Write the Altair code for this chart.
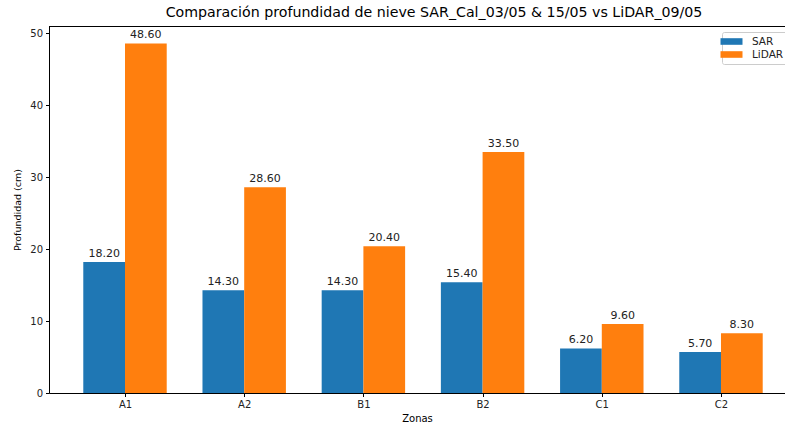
import altair as alt
import pandas as pd

zones = ["A1", "A2", "B1", "B2", "C1", "C2"]
sar = [18.2, 14.3, 14.3, 15.4, 6.2, 5.7]
lidar = [48.6, 28.6, 20.4, 33.5, 9.6, 8.3]
series = ["SAR", "LiDAR"]
colors = ["#1f77b4", "#ff7f0e"]
bar_w = 0.35

rows = []
for i, z in enumerate(zones):
    rows.append({"zona": z, "i": i, "serie": "SAR", "valor": sar[i],
                 "x0": i - bar_w, "x1": i, "xc": i - bar_w / 2})
    rows.append({"zona": z, "i": i, "serie": "LiDAR", "valor": lidar[i],
                 "x0": i, "x1": i + bar_w, "xc": i + bar_w / 2})
df = pd.DataFrame(rows)

W = 736
H = 367
FONT = "DejaVu Sans"
label_expr = "[" + ",".join("'%s'" % z for z in zones) + "][datum.value]"

xscale = alt.Scale(domain=[-0.6376, 5.537], nice=False, zero=False)
yscale = alt.Scale(domain=[0, 51.03], nice=False)

base = alt.Chart(df)

bars = base.mark_rect().encode(
    x=alt.X("x0:Q", scale=xscale,
            axis=alt.Axis(values=list(range(len(zones))), labelExpr=label_expr,
                          title="Zonas", grid=False, tickSize=3.5, labelPadding=3,
                          titlePadding=4, titleFontWeight="normal", titleFontSize=10,
                          labelFontSize=10, titleColor="black", labelColor="#222",
                          domainColor="black", tickColor="black", titleFont=FONT,
                          labelFont=FONT, labelFlush=False)),
    x2="x1:Q",
    y=alt.Y("valor:Q", scale=yscale,
            axis=alt.Axis(values=[0, 10, 20, 30, 40, 50], title="Profundidad (cm)",
                          grid=False, tickSize=3.5, labelPadding=3, titlePadding=7,
                          titleFontWeight="normal", titleFontSize=9.5, labelFontSize=10,
                          titleColor="black", labelColor="#222", domainColor="black",
                          tickColor="black", titleFont=FONT, labelFont=FONT)),
    y2=alt.datum(0),
    color=alt.Color("serie:N", scale=alt.Scale(domain=series, range=colors),
                    legend=alt.Legend(title=None, orient="none", legendX=673, legendY=6,
                                      fillColor="white", strokeColor="#cccccc",
                                      cornerRadius=2, padding=4,
                                      symbolType="M-2,-0.6H2V0.6H-2Z", symbolSize=121,
                                      symbolStrokeWidth=0, labelOffset=15,
                                      labelFontSize=10.5, labelFont=FONT,
                                      labelColor="#222", rowPadding=2)),
)

labels = base.mark_text(baseline="alphabetic", dy=-5, fontSize=11, font=FONT,
                        color="#222").encode(
    x=alt.X("xc:Q", scale=xscale),
    y=alt.Y("valor:Q", scale=yscale),
    text=alt.Text("valor:Q", format=".2f"),
)

top_spine = alt.Chart(pd.DataFrame({"v": [0]})).mark_rule(color="black", strokeWidth=1).encode(
    x=alt.value(0), x2=alt.value(W), y=alt.value(0.5)
)

chart = alt.layer(bars, labels, top_spine).properties(
    width=W, height=H,
    title=alt.TitleParams(
        "Comparación profundidad de nieve SAR_Cal_03/05 & 15/05 vs LiDAR_09/05",
        fontSize=14.2, font=FONT, fontWeight="normal", anchor="middle", dx=17, dy=12,
        baseline="alphabetic", offset=7, color="black"),
    padding={"left": 49, "top": 26, "right": 0, "bottom": 30},
    autosize=alt.AutoSizeParams(type="none"),
).configure_view(stroke=None).configure(background="white")

chart.save("out.html", embed_options={"renderer": "svg", "actions": False})
